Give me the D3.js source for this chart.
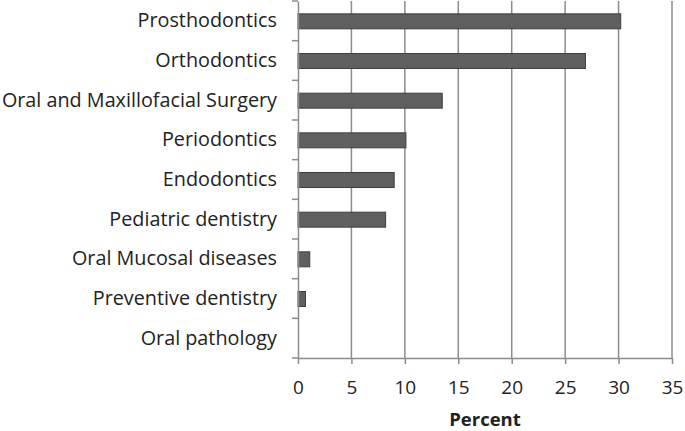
<!DOCTYPE html>
<html><head><meta charset="utf-8">
<script src="https://cdn.jsdelivr.net/npm/d3@7"></script>
<style>body{margin:0;background:#fff}svg{display:block}text{font-family:"Open Sans",sans-serif;fill:#222}</style>
</head><body><svg id="c" width="685" height="431"></svg>
<script>
const categories = ["Prosthodontics","Orthodontics","Oral and Maxillofacial Surgery","Periodontics","Endodontics","Pediatric dentistry","Oral Mucosal diseases","Preventive dentistry","Oral pathology"];
const values = [30.2, 26.9, 13.5, 10.1, 9.0, 8.2, 1.1, 0.7, 0];
const xTicks = [0,5,10,15,20,25,30,35];
const xTitle = "Percent";

const FONT = "'Open Sans',sans-serif";
const svg = d3.select("#c");
const m = {l:298, r:672, t:1, b:358};
const x = d3.scaleLinear().domain([0,35]).range([m.l, m.r]);
const yb = d3.scaleBand().domain(categories).range([m.t, m.b]);

// gridlines
svg.append("g").selectAll("line").data(xTicks.slice(1)).join("line")
  .attr("x1", d=>x(d)).attr("x2", d=>x(d)).attr("y1", m.t).attr("y2", m.b)
  .attr("stroke", "#8c8c8c").attr("stroke-width", 1.5);

// bars
svg.append("g").selectAll("rect").data(values).join("rect")
  .attr("x", x(0)).attr("y", (d,i)=>yb(categories[i]) + yb.bandwidth()/2 - 7)
  .attr("width", d=>x(d)-x(0)).attr("height", 15)
  .attr("fill", "#5f5f5f").attr("stroke", "#3f3f3f").attr("stroke-width", d=>d>0?1:0);

// x axis
const xa = svg.append("g").attr("transform", `translate(0,${m.b})`)
  .call(d3.axisBottom(x).tickValues(xTicks).tickSize(6).tickSizeOuter(0).tickPadding(17));
xa.select(".domain").attr("stroke", "#8c8c8c").attr("stroke-width", 1.5);
xa.selectAll(".tick line").attr("stroke", "#8c8c8c").attr("stroke-width", 1.5);
xa.selectAll("text").attr("font-size", 19).attr("font-family", FONT).attr("fill", "#222");

// y axis
const ya = svg.append("g").attr("transform", `translate(${m.l},0)`)
  .call(d3.axisLeft(yb).tickSize(0).tickPadding(21));
ya.select(".domain").attr("stroke", "#8c8c8c").attr("stroke-width", 1.5);
ya.selectAll("text").attr("font-size", 19.8).attr("font-family", FONT).attr("fill", "#222");
const bounds = categories.map(c=>yb(c)).concat([m.b]);
ya.append("g").selectAll("line").data(bounds).join("line")
  .attr("x1", -6).attr("x2", 0).attr("y1", d=>d).attr("y2", d=>d)
  .attr("stroke", "#8c8c8c").attr("stroke-width", 1.5);

svg.append("text").attr("x", (m.l+m.r)/2).attr("y", 426).attr("text-anchor", "middle")
  .attr("font-size", 18.5).attr("font-weight", "bold").text(xTitle);
</script></body></html>
